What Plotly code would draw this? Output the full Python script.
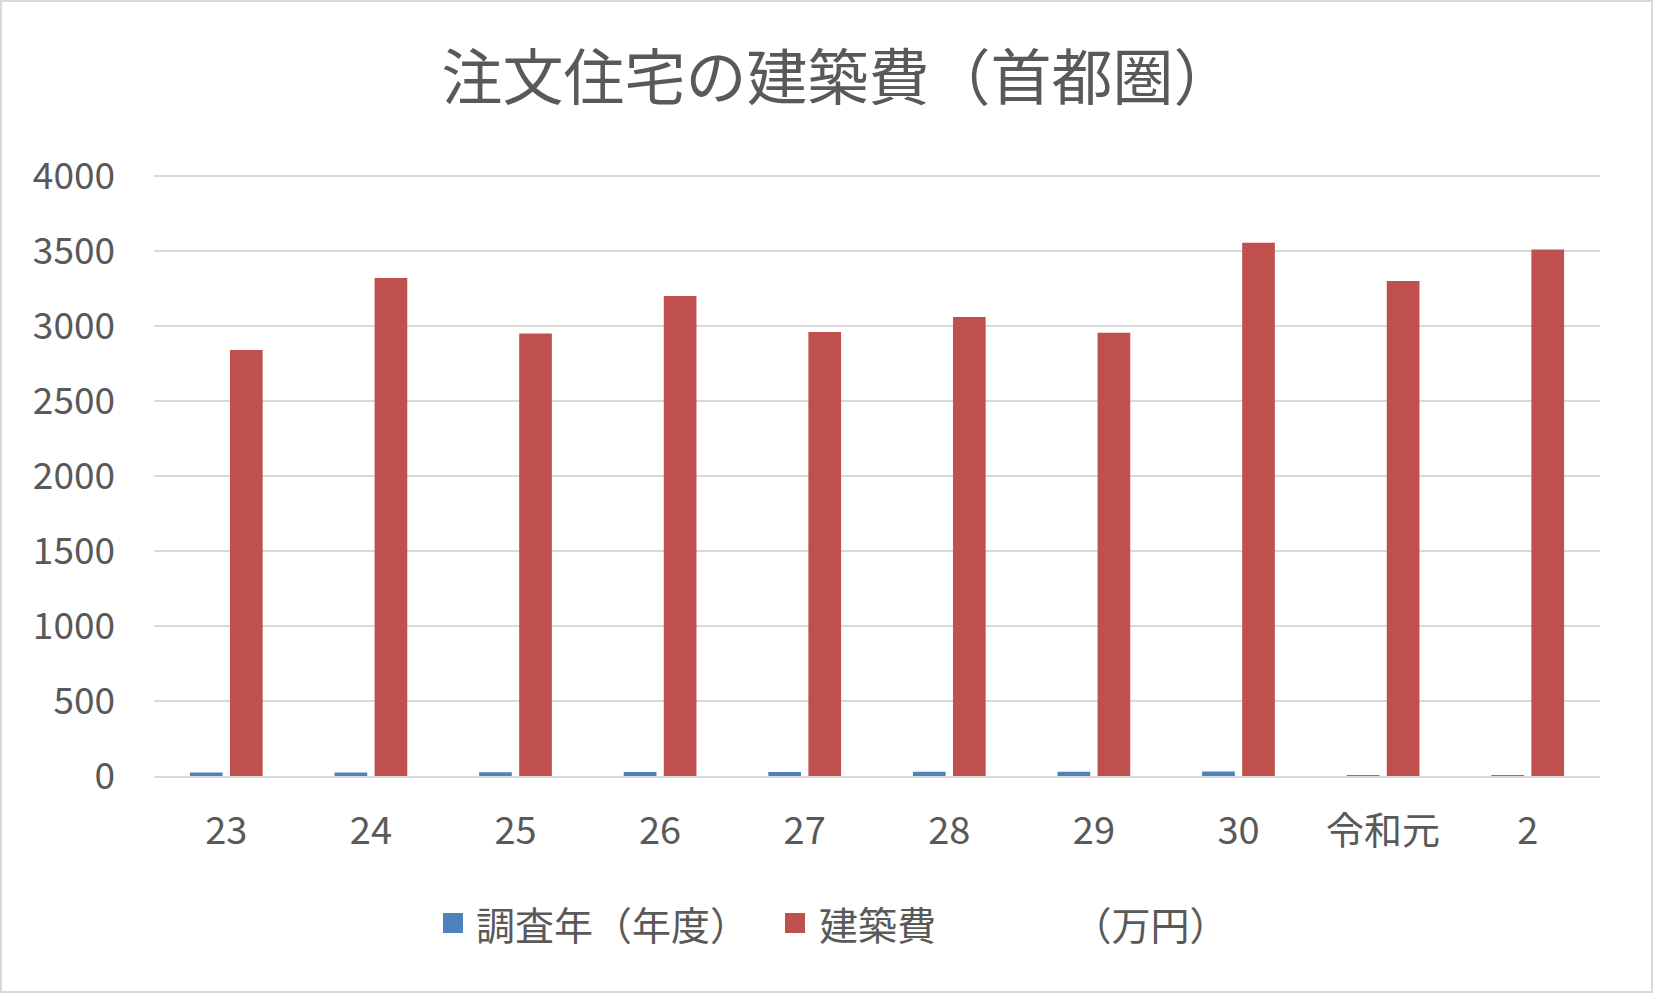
import plotly.graph_objects as go

categories = ["23", "24", "25", "26", "27", "28", "29", "30", "令和元", "2"]
survey_year = [23, 24, 25, 26, 27, 28, 29, 30, 1, 2]
build_cost = [2840, 3320, 2950, 3200, 2960, 3060, 2955, 3555, 3300, 3510]
y_ticks = [0, 500, 1000, 1500, 2000, 2500, 3000, 3500, 4000]

series_names = ["調査年（年度）", "建築費　　　　（万円）"]
colors = ["#4F81BD", "#C0504D"]
title_text = "注文住宅の建築費（首都圏）"

W, H = 1653, 993
ML, MR, MT, MB = 154, 53, 171, 217
PW, PH = W - ML - MR, H - MT - MB
FONT = "Noto Sans CJK JP"
GRAY = "#595959"

def px_x(px):
    return (px - ML) / PW

def px_y(py):
    return (H - MB - py) / PH

fig = go.Figure()
fig.add_trace(go.Bar(x=categories, y=survey_year, name=series_names[0],
                     marker=dict(color=colors[0], line=dict(width=0)), showlegend=False))
fig.add_trace(go.Bar(x=categories, y=build_cost, name=series_names[1],
                     marker=dict(color=colors[1], line=dict(width=0)), showlegend=False))

shapes = [dict(type="rect", xref="paper", yref="paper",
               x0=px_x(1), x1=px_x(W - 1), y0=px_y(H - 1), y1=px_y(1),
               line=dict(color="#D9D9D9", width=2), fillcolor="rgba(0,0,0,0)", layer="below")]
annotations = []
leg_y = 923
leg_items = [(443, 476), (785, 819)]
for (sq_x, tx), name, col in zip(leg_items, series_names, colors):
    shapes.append(dict(type="rect", xref="paper", yref="paper",
                       x0=px_x(sq_x), x1=px_x(sq_x + 20),
                       y0=px_y(leg_y + 10), y1=px_y(leg_y - 10),
                       line=dict(width=0), fillcolor=col))
    annotations.append(dict(xref="paper", yref="paper", x=px_x(tx - 2), y=px_y(leg_y),
                            xanchor="left", yanchor="middle", text=name, showarrow=False,
                            font=dict(family=FONT, size=39, color=GRAY)))

fig.update_layout(
    width=W, height=H,
    margin=dict(l=ML, r=MR, t=MT, b=MB, pad=0),
    paper_bgcolor="white", plot_bgcolor="white",
    title=dict(text=title_text, x=0.507, xanchor="center", xref="container",
               y=1 - 79 / H, yref="container", yanchor="middle",
               font=dict(family=FONT, size=61, color=GRAY)),
    barmode="group", bargap=0.446, bargroupgap=0.184,
    showlegend=False,
    shapes=shapes, annotations=annotations,
    font=dict(family=FONT, color=GRAY),
)
fig.update_xaxes(type="category", showline=True, linecolor="#D9D9D9", linewidth=2,
                 showgrid=False, ticks="", ticklabelstandoff=20,
                 tickfont=dict(family=FONT, size=38, color=GRAY))
fig.update_yaxes(range=[0, 4033], tickvals=y_ticks, showgrid=True, gridcolor="#D9D9D9",
                 gridwidth=2, zeroline=False, showline=False, ticks="",
                 ticklabelstandoff=38,
                 tickfont=dict(family=FONT, size=37, color=GRAY))

fig.write_html("out.html")
